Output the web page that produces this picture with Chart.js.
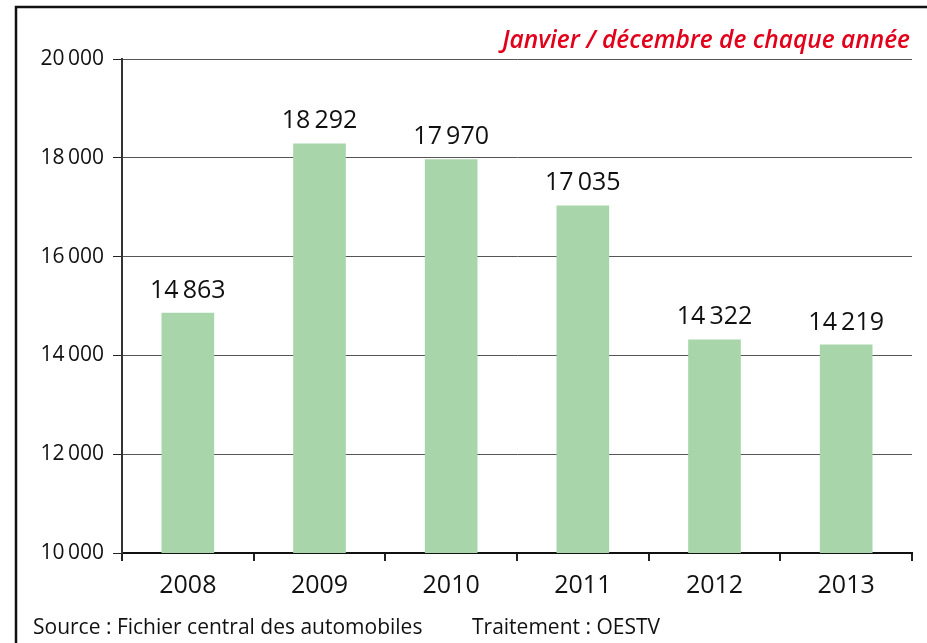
<!DOCTYPE html>
<html>
<head>
<meta charset="utf-8">
<script src="https://cdn.jsdelivr.net/npm/chart.js@4/dist/chart.umd.min.js"></script>
<style>
html,body{margin:0;padding:0;background:#fff;}
#wrap{width:927px;height:643px;position:relative;}
</style>
</head>
<body>
<div id="wrap"><canvas id="c" width="927" height="643"></canvas></div>
<script>
const categories = ["2008", "2009", "2010", "2011", "2012", "2013"];
const values = [14863, 18292, 17970, 17035, 14322, 14219];
const yTicks = [10000, 12000, 14000, 16000, 18000, 20000];
const titleText = "Janvier / décembre de chaque année";
const sourceText = "Source : Fichier central des automobiles";
const treatText = "Traitement : OESTV";

const FONT = "'Open Sans', 'DejaVu Sans', sans-serif";
function fmt(v){ return String(v).replace(/\B(?=(\d{3})+(?!\d))/g, "\u2009"); }

const decor = {
  id: 'decor',
  afterDatasetsDraw(chart){
    const ctx = chart.ctx;
    const meta = chart.getDatasetMeta(0);
    ctx.save();
    ctx.fillStyle = '#111';
    ctx.font = "25px " + FONT;
    ctx.textAlign = 'center';
    ctx.textBaseline = 'alphabetic';
    meta.data.forEach((bar, i) => {
      ctx.fillText(fmt(values[i]), bar.x, bar.y - 15);
    });
    ctx.restore();
  },
  afterDraw(chart){
    const ctx = chart.ctx;
    ctx.save();
    ctx.strokeStyle = '#111';
    ctx.lineWidth = 2.5;
    ctx.beginPath();
    ctx.moveTo(16, 643);
    ctx.lineTo(16, 7);
    ctx.lineTo(927, 7);
    ctx.stroke();
    ctx.fillStyle = '#e2001a';
    ctx.font = "italic 600 24.5px " + FONT;
    ctx.textAlign = 'right';
    ctx.textBaseline = 'alphabetic';
    ctx.fillText(titleText, 910, 48);
    ctx.fillStyle = '#111';
    ctx.font = "21px " + FONT;
    ctx.textAlign = 'left';
    ctx.fillText(sourceText, 33, 634);
    ctx.fillText(treatText, 472, 634);
    ctx.restore();
  }
};

new Chart(document.getElementById('c'), {
  type: 'bar',
  data: {
    labels: categories,
    datasets: [{
      data: values,
      backgroundColor: '#a8d5aa',
      borderWidth: 0,
      barPercentage: 0.4,
      categoryPercentage: 1.0
    }]
  },
  options: {
    responsive: false,
    animation: false,
    layout: { padding: { top: 59, right: 15, left: 0, bottom: 0 } },
    plugins: { legend: { display: false }, tooltip: { enabled: false }, title: { display: false } },
    scales: {
      x: {
        afterFit(s){ s.height = 90; },
        grid: { offset: true, drawOnChartArea: false, drawTicks: true, tickLength: 8, color: '#222', lineWidth: 2 },
        border: { display: true, color: '#111', width: 2 },
        ticks: { color: '#111', font: { family: FONT, size: 25 }, padding: 10 }
      },
      y: {
        min: 10000, max: 20000,
        afterFit(s){ s.width = 122; },
        afterBuildTicks(s){ s.ticks = yTicks.map(v => ({ value: v })); },
        grid: { color: '#555', lineWidth: 1, drawTicks: true, tickLength: 9, tickColor: '#222' },
        border: { display: true, color: '#333', width: 2 },
        ticks: { color: '#111', font: { family: FONT, size: 21 }, padding: 9, callback: v => fmt(v) }
      }
    }
  },
  plugins: [decor]
});
</script>
</body>
</html>
